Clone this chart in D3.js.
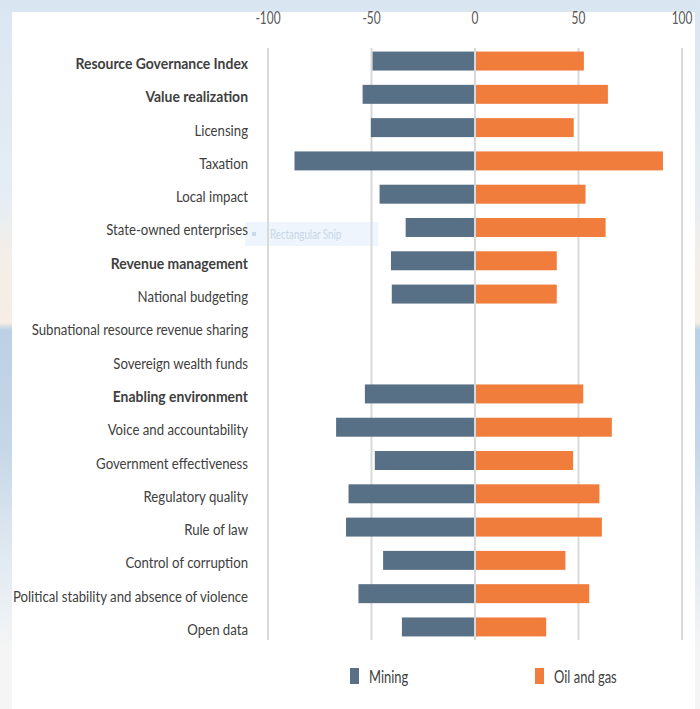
<!DOCTYPE html>
<html>
<head>
<meta charset="utf-8">
<script src="https://cdn.jsdelivr.net/npm/d3@7"></script>
<style>
  html, body { margin: 0; padding: 0; }
  body { width: 700px; height: 709px; overflow: hidden; }
  text { font-family: Lato, "Open Sans", sans-serif; }
</style>
</head>
<body>
<div id="chart"></div>
<script>
const categories = [
  "Resource Governance Index",
  "Value realization",
  "Licensing",
  "Taxation",
  "Local impact",
  "State-owned enterprises",
  "Revenue management",
  "National budgeting",
  "Subnational resource revenue sharing",
  "Sovereign wealth funds",
  "Enabling environment",
  "Voice and accountability",
  "Government effectiveness",
  "Regulatory quality",
  "Rule of law",
  "Control of corruption",
  "Political stability and absence of violence",
  "Open data"
];

const boldCategories = [
  "Resource Governance Index",
  "Value realization",
  "Revenue management",
  "Enabling environment"
];

// mining shown to the left (negative), null = no score
const miningValues = [-49.5, -54.3, -50.3, -87.2, -46.1, -33.5, -40.6, -40.2, null, null,
  -53.2, -67.1, -48.4, -61.1, -62.3, -44.4, -56.3, -35.3];
const oilGasValues = [52.6, 64.2, 47.7, 90.8, 53.4, 63.1, 39.5, 39.5, null, null,
  52.3, 66.1, 47.4, 60.1, 61.3, 43.7, 55.2, 34.4];

const tickValues = [-100, -50, 0, 50, 100];
const seriesNames = ["Mining", "Oil and gas"];
const seriesColors = ["#587086", "#f07d3c"];

const W = 700, H = 709;

const svg = d3.select("#chart")
  .append("svg")
  .attr("width", W)
  .attr("height", H);

// backdrop behind the white panel
const defs = svg.append("defs");
const grad = defs.append("linearGradient")
  .attr("id", "bg")
  .attr("x1", 0).attr("y1", 0).attr("x2", 0).attr("y2", 1);
[
  [0, "#d9e6f2"], [0.28, "#e6edf4"], [0.36, "#f3eee8"], [0.455, "#f6eee4"],
  [0.465, "#bcd1e5"], [0.62, "#c4d6e7"], [0.8, "#e3ebf2"], [0.92, "#f5f5f5"], [1, "#f5f5f5"]
].forEach(([o, c]) => grad.append("stop").attr("offset", o).attr("stop-color", c));

svg.append("rect").attr("width", W).attr("height", H).attr("fill", "url(#bg)");
svg.append("rect")
  .attr("x", 12).attr("y", 12)
  .attr("width", 683).attr("height", H - 12)
  .attr("fill", "#ffffff");

const x = d3.scaleLinear().domain([-100, 100]).range([268, 682]);
const y = d3.scaleBand()
  .domain(categories)
  .range([44.4, 643.6])
  .paddingInner(0.43)
  .paddingOuter(0.215);

// faint screen-capture leftover
svg.append("rect")
  .attr("x", 245).attr("y", 222)
  .attr("width", 133).attr("height", 24)
  .attr("fill", "#eef5fc");
svg.append("rect")
  .attr("x", 252).attr("y", 232)
  .attr("width", 4).attr("height", 4)
  .attr("fill", "#c9d9e8");
svg.append("text")
  .attr("transform", "translate(270,239) scale(0.75,1)")
  .style("font-size", "13px")
  .attr("fill", "#c6d7e7")
  .text("Rectangular Snip");

// gridlines
svg.append("g")
  .selectAll("line")
  .data(tickValues)
  .join("line")
  .attr("x1", d => x(d)).attr("x2", d => x(d))
  .attr("y1", 48).attr("y2", 640)
  .attr("stroke", "#d9d9d9")
  .attr("stroke-width", 2);

// tick labels on top
svg.append("g")
  .selectAll("text")
  .data(tickValues)
  .join("text")
  .attr("transform", d => `translate(${x(d)},24) scale(0.7,1)`)
  .attr("text-anchor", "middle")
  .style("font-size", "17px")
  .attr("fill", "#595959")
  .text(d => d);

const rows = categories.map((c, i) => ({cat: c, mining: miningValues[i], oil: oilGasValues[i]}));

// mining bars
svg.append("g")
  .selectAll("rect")
  .data(rows.filter(d => d.mining != null))
  .join("rect")
  .attr("x", d => x(d.mining))
  .attr("width", d => x(0) - 1 - x(d.mining))
  .attr("y", d => y(d.cat))
  .attr("height", y.bandwidth())
  .attr("fill", seriesColors[0]);

// oil and gas bars
svg.append("g")
  .selectAll("rect")
  .data(rows.filter(d => d.oil != null))
  .join("rect")
  .attr("x", x(0) + 1)
  .attr("width", d => x(d.oil) - x(0) - 1)
  .attr("y", d => y(d.cat))
  .attr("height", y.bandwidth())
  .attr("fill", seriesColors[1]);

// category labels
svg.append("g")
  .selectAll("text")
  .data(categories)
  .join("text")
  .attr("transform", d => {
    const sx = boldCategories.includes(d) ? 0.93 : 0.88;
    return `translate(248,${y(d) + y.bandwidth() / 2 + 8}) scale(${sx},1)`;
  })
  .attr("text-anchor", "end")
  .style("font-size", "15px")
  .style("font-weight", d => boldCategories.includes(d) ? "bold" : "normal")
  .attr("fill", "#404040")
  .text(d => d);

// legend
const legendX = [350, 535];
const legend = svg.append("g")
  .selectAll("g")
  .data(seriesNames)
  .join("g")
  .attr("transform", (d, i) => `translate(${legendX[i]},668)`);

legend.append("rect")
  .attr("width", 9).attr("height", 16)
  .attr("fill", (d, i) => seriesColors[i]);

legend.append("text")
  .attr("transform", "translate(19,15) scale(0.72,1)")
  .style("font-size", "18px")
  .attr("fill", "#404040")
  .text(d => d);
</script>
</body>
</html>
